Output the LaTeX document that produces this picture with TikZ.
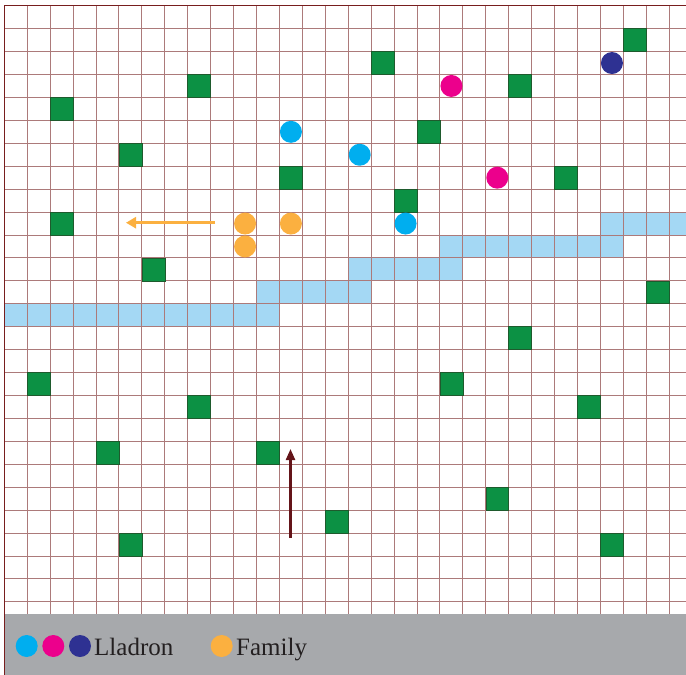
\documentclass[tikz,border=0pt]{standalone}
\usepackage{fontspec}
\setmainfont{Liberation Serif}
\usetikzlibrary{arrows.meta}
\definecolor{gridc}{RGB}{172,122,122}
\definecolor{borderc}{RGB}{120,30,30}
\definecolor{pathc}{RGB}{164,216,244}
\definecolor{greenc}{RGB}{12,145,68}
\definecolor{greenb}{RGB}{30,90,45}
\definecolor{cyanc}{RGB}{0,174,239}
\definecolor{pinkc}{RGB}{236,0,140}
\definecolor{navyc}{RGB}{46,49,146}
\definecolor{orangec}{RGB}{251,176,64}
\definecolor{maroonc}{RGB}{100,20,25}
\definecolor{bandc}{RGB}{167,169,172}
\definecolor{textc}{RGB}{35,31,32}
\tikzset{
  gridline/.style={draw=gridc, line width=1pt},
  pathcell/.style={fill=pathc},
  tree/.style={fill=greenc, draw=greenb, line width=0.6pt},
  agent/.style={circle, minimum size=22pt, inner sep=0pt},
  legendtext/.style={font=\fontsize{25}{29}\selectfont, text=textc, anchor=base west, inner sep=0pt},
}
\begin{document}
\begin{tikzpicture}[x=1pt,y=-1pt]
\useasboundingbox (0,0) rectangle (686,675);
\clip (0,0) rectangle (686,675);
\fill[white] (0,0) rectangle (686,675);
\def\gx{4.3}\def\gy{5.7}\def\gs{22.93}
% path cells
\foreach \r/\a/\b in {13/0/11, 12/11/15, 11/15/19, 10/19/26, 9/26/29}{
  \foreach \c in {\a,...,\b}{
    \fill[pathcell] ({\gx+\c*\gs},{\gy+\r*\gs}) rectangle ++(\gs,\gs);
  }
}
% grid
\foreach \k in {0,...,29}{
  \draw[gridline] ({\gx+\k*\gs},\gy) -- ({\gx+\k*\gs},614);
}
\foreach \k in {0,...,26}{
  \draw[gridline] (\gx,{\gy+\k*\gs}) -- (686,{\gy+\k*\gs});
}
% green cells
\foreach \c/\r in {27/1,16/2,8/3,22/3,2/4,18/5,5/6,12/7,24/7,17/8,2/9,6/11,28/12,22/14,1/16,19/16,8/17,25/17,4/19,11/19,21/21,14/22,5/23,26/23}{
  \draw[tree] ({\gx+\c*\gs},{\gy+\r*\gs}) rectangle ++(\gs,\gs);
}
% agents
\foreach \c/\r/\col [count=\i] in {26/2/navyc,19/3/pinkc,21/7/pinkc,12/5/cyanc,15/6/cyanc,17/9/cyanc,10/9/orangec,12/9/orangec,10/10/orangec}{
  \node[agent, fill=\col] (ag\i) at ({\gx+(\c+0.5)*\gs},{\gy+(\r+0.5)*\gs}) {};
}
% arrows
\coordinate (oa1) at (215,222.7);
\coordinate (oa2) at (126,222.7);
\draw[orangec, line width=3pt, -{Triangle[length=10pt,width=11pt]}] (oa1) -- (oa2);
\coordinate (ma1) at (290.5,538);
\coordinate (ma2) at (290.5,449);
\draw[maroonc, line width=2.2pt, -{Triangle[length=11pt,width=9pt]}] (ma1) -- (ma2);
% borders
\draw[borderc, line width=1.4pt] (\gx,675) -- (\gx,\gy) -- (686,\gy);
% legend band
\fill[bandc] (5.2,614) rectangle (686,675);
\node[agent, fill=cyanc] (l1) at (26.7,646) {};
\node[agent, fill=pinkc] (l2) at (53.3,646) {};
\node[agent, fill=navyc] (l3) at (80,646) {};
\node[legendtext] (lt1) at (94,655) {Lladron};
\node[agent, fill=orangec] (l4) at (221.7,646) {};
\node[legendtext] (lt2) at (236,655) {Family};
\end{tikzpicture}
\end{document}
